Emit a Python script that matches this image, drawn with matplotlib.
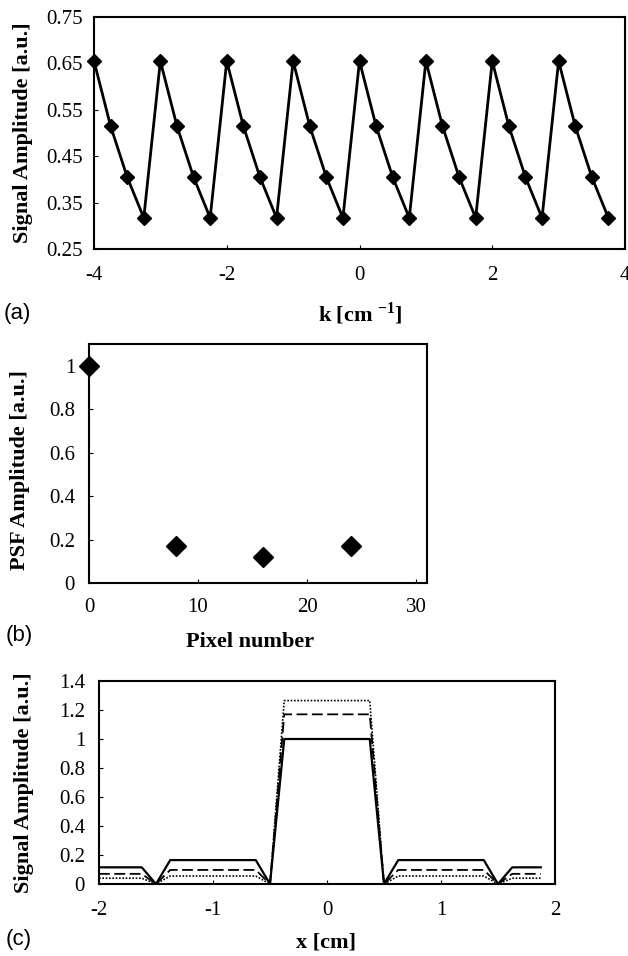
import matplotlib
matplotlib.use("Agg")
import matplotlib.pyplot as plt
import numpy as np

plt.rcParams["axes.unicode_minus"] = False
plt.rcParams["font.family"] = ["Liberation Serif", "DejaVu Serif"]
plt.rcParams["mathtext.fontset"] = "custom"
plt.rcParams["mathtext.rm"] = "Liberation Serif"
plt.rcParams["mathtext.bf"] = "Liberation Serif:bold"

# panel (a): sampled k-space signal, 32 samples
k_vals = np.arange(-4, 4, 0.25)
a_cycle = [0.655, 0.515, 0.405, 0.317]
a_sig = a_cycle * 8

# panel (b): PSF amplitude
pix = [0, 8, 16, 24]
psf = [1.0, 0.17, 0.12, 0.17]

# panel (c): reconstructed profiles on a 32-point grid
x_cm = np.arange(-2, 2, 0.125)
solid = [0.115, 0.115, 0.115, 0.115, 0, 0.165, 0.165, 0.165, 0.165, 0.165, 0.165, 0.165, 0, 1.0, 1.0, 1.0,
         1.0, 1.0, 1.0, 1.0, 0, 0.165, 0.165, 0.165, 0.165, 0.165, 0.165, 0.165, 0, 0.115, 0.115, 0.115]
dashed = [0.07, 0.07, 0.07, 0.07, 0, 0.097, 0.097, 0.097, 0.097, 0.097, 0.097, 0.097, 0, 1.17, 1.17, 1.17,
          1.17, 1.17, 1.17, 1.17, 0, 0.097, 0.097, 0.097, 0.097, 0.097, 0.097, 0.097, 0, 0.07, 0.07, 0.07]
dotted = [0.04, 0.04, 0.04, 0.04, 0, 0.055, 0.055, 0.055, 0.055, 0.055, 0.055, 0.055, 0, 1.265, 1.265, 1.265,
          1.265, 1.265, 1.265, 1.265, 0, 0.055, 0.055, 0.055, 0.055, 0.055, 0.055, 0.055, 0, 0.04, 0.04, 0.04]

sans = "Liberation Sans"
W, H = 628, 956

fig = plt.figure(figsize=(6.28, 9.56), dpi=100)


def style(ax, xpad, ypad):
    for s in ax.spines.values():
        s.set_linewidth(1.5)
    ax.tick_params(direction="in", length=3, width=0.8, labelsize=15)
    ax.tick_params(axis="x", pad=xpad)
    ax.tick_params(axis="y", pad=ypad)


def label(x, y, s, rot=0, fam="Liberation Serif", bold=True, size=16):
    fig.text(x / W, 1 - y / H, s, family=fam, weight="bold" if bold else "normal", fontsize=size,
             rotation=rot, ha="center", va="center")


# (a)
ax1 = fig.add_axes([94 / W, 1 - 249 / H, 531 / W, 232 / H])
ax1.plot(k_vals, a_sig, color="black", lw=2, marker="D", ms=7.5, clip_on=False)
ax1.set_xlim(-4, 4)
ax1.set_ylim(0.25, 0.75)
ax1.set_xticks([-4, -2, 0, 2, 4])
ax1.set_yticks([0.25, 0.35, 0.45, 0.55, 0.65, 0.75])
ax1.set_yticklabels(["0.25", "0.35", "0.45", "0.55", "0.65", "0.75"])
ax1.tick_params(axis="y", length=0)
style(ax1, 12, 8)
label(23, 133, "Signal Amplitude [a.u.]", rot=90)
label(360, 314, "k [cm $^{\\mathbf{-1}}$]")
label(17, 313, "(a)", fam=sans, bold=False)

# (b)
ax2 = fig.add_axes([89 / W, 1 - 583 / H, 338 / W, 239 / H])
ax2.plot(pix, psf, linestyle="none", color="black", marker="D", ms=10, clip_on=False)
ax2.set_xlim(0, 31)
ax2.set_ylim(0, 1.1)
ax2.set_xticks([0, 10, 20, 30])
ax2.set_yticks([0, 0.2, 0.4, 0.6, 0.8, 1])
ax2.set_yticklabels(["0", "0.2", "0.4", "0.6", "0.8", "1"])
style(ax2, 11, 10)
label(20, 470, "PSF Amplitude [a.u.]", rot=90)
label(250, 642, "Pixel number")
label(19, 635, "(b)", fam=sans, bold=False)

# (c)
ax3 = fig.add_axes([99 / W, 1 - 884 / H, 456 / W, 203 / H])
ax3.plot(x_cm, dotted, color="black", lw=1.2, linestyle=(0, (1, 1)))
ax3.plot(x_cm, dashed, color="black", lw=1.3, linestyle=(0, (6, 2.5)))
ax3.plot(x_cm, solid, color="black", lw=1.6)
ax3.set_xlim(-2, 2)
ax3.set_ylim(0, 1.4)
ax3.set_xticks([-2, -1, 0, 1, 2])
ax3.set_yticks([0, 0.2, 0.4, 0.6, 0.8, 1, 1.2, 1.4])
ax3.set_yticklabels(["0", "0.2", "0.4", "0.6", "0.8", "1", "1.2", "1.4"])
style(ax3, 12, 10)
label(24, 783, "Signal Amplitude [a.u.]", rot=90)
label(326, 942, "x [cm]")
label(19, 940, "(c)", fam=sans, bold=False)

fig.savefig("out.png", dpi=100)
